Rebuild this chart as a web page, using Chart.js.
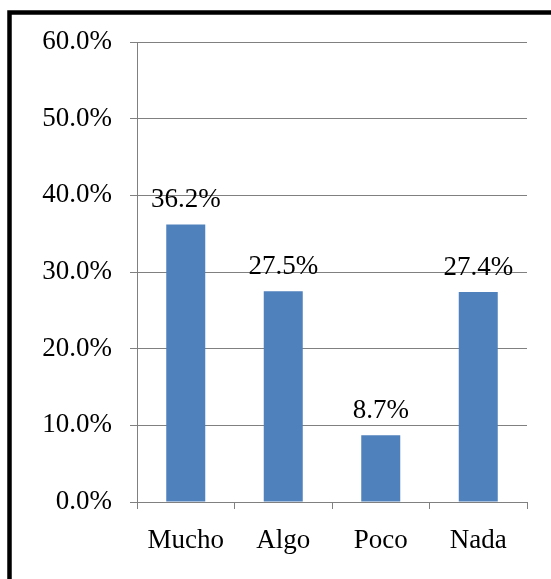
<!DOCTYPE html>
<html>
<head>
<meta charset="utf-8">
<script src="https://cdn.jsdelivr.net/npm/chart.js@4/dist/chart.umd.min.js"></script>
<style>
  html, body { margin: 0; padding: 0; background: #ffffff; }
  #wrap { position: relative; width: 551px; height: 579px; }
</style>
</head>
<body>
<div id="wrap"><canvas id="c"></canvas></div>
<script>
const categories = ['Mucho', 'Algo', 'Poco', 'Nada'];
const values = [36.2, 27.5, 8.7, 27.4];
const yTickValues = [0, 10, 20, 30, 40, 50, 60];

const FONT = { family: '"Liberation Serif", "Times New Roman", serif', size: 27 };

const frame = {
  id: 'frame',
  afterDraw(chart) {
    const ctx = chart.ctx;
    ctx.save();
    ctx.strokeStyle = '#000000';
    ctx.lineWidth = 4.5;
    ctx.beginPath();
    ctx.moveTo(9.5, 700);
    ctx.lineTo(9.5, 12.5);
    ctx.lineTo(700, 12.5);
    ctx.stroke();
    ctx.restore();
  }
};

const valueLabels = {
  id: 'valueLabels',
  afterDatasetsDraw(chart) {
    const ctx = chart.ctx;
    const meta = chart.getDatasetMeta(0);
    ctx.save();
    ctx.font = FONT.size + 'px ' + FONT.family;
    ctx.fillStyle = '#000000';
    ctx.textAlign = 'center';
    ctx.textBaseline = 'alphabetic';
    meta.data.forEach((bar, i) => {
      ctx.fillText(values[i].toFixed(1) + '%', bar.x, bar.y - 17);
    });
    ctx.restore();
  }
};

new Chart(document.getElementById('c'), {
  type: 'bar',
  data: {
    labels: categories,
    datasets: [{
      data: values,
      backgroundColor: '#4f81bd',
      borderWidth: 0,
      barPercentage: 0.4,
      categoryPercentage: 1.0
    }]
  },
  options: {
    responsive: true,
    maintainAspectRatio: false,
    animation: false,
    layout: { padding: { left: 0, right: 24, top: 42, bottom: 0 } },
    plugins: { legend: { display: false }, tooltip: { enabled: false }, title: { display: false } },
    scales: {
      x: {
        offset: true,
        grid: { display: true, drawOnChartArea: false, drawTicks: true, tickLength: 7, color: '#808080', offset: true },
        border: { display: true, color: '#808080', width: 1 },
        ticks: { color: '#000000', font: FONT, padding: 16, maxRotation: 0 },
        afterFit(scale) { scale.height = 77; }
      },
      y: {
        min: 0,
        max: 60,
        afterBuildTicks(scale) { scale.ticks = yTickValues.map(v => ({ value: v })); },
        grid: { color: '#808080', lineWidth: 1, tickLength: 7, drawTicks: true },
        border: { display: true, color: '#808080', width: 1 },
        ticks: {
          color: '#000000',
          font: FONT,
          padding: 18,
          callback: (v) => Number(v).toFixed(1) + '%'
        },
        afterFit(scale) { scale.width = 137; }
      }
    }
  },
  plugins: [frame, valueLabels]
});
</script>
</body>
</html>
